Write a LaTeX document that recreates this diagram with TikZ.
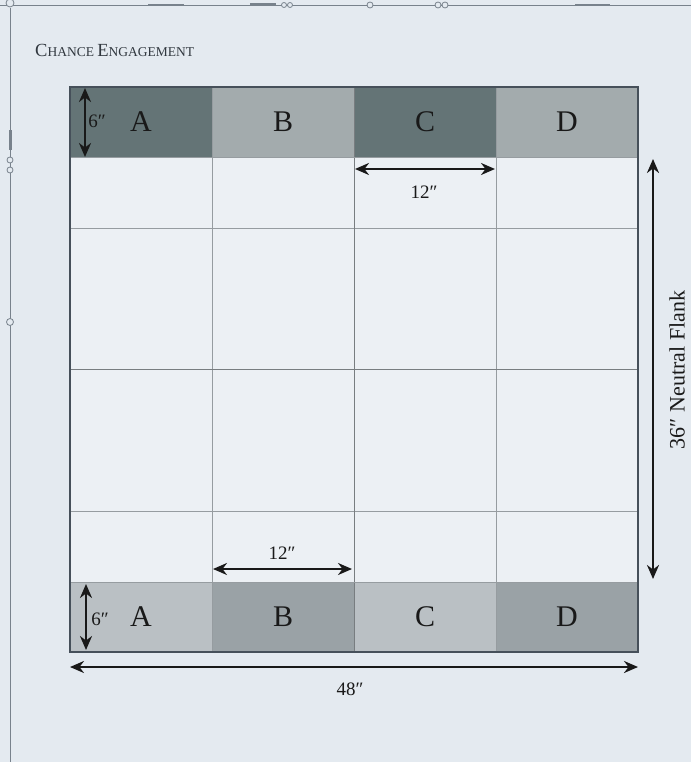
\documentclass[tikz,border=0pt]{standalone}
\usepackage{fontspec}
\setmainfont{Liberation Serif}
\usetikzlibrary{arrows.meta}
\definecolor{bg}{RGB}{228,234,240}
\definecolor{field}{RGB}{236,240,244}
\definecolor{topdark}{RGB}{100,116,118}
\definecolor{toplight}{RGB}{163,171,173}
\definecolor{botlight}{RGB}{186,192,196}
\definecolor{botmid}{RGB}{154,162,166}
\definecolor{gridc}{RGB}{150,156,160}
\definecolor{edgec}{RGB}{70,80,90}
\definecolor{ink}{RGB}{25,25,25}
\definecolor{orn}{RGB}{120,130,140}
\newcommand{\qq}{\char"2033\relax}
\tikzset{
  cell/.style={minimum width=142pt, minimum height=70pt, inner sep=0pt, outer sep=0pt, font=\fontsize{30}{30}\selectfont, text=ink},
  dimline/.style={draw=ink, line width=2.7pt, {Stealth[length=14pt,width=12pt]}-{Stealth[length=14pt,width=12pt]}},
  dimlabel/.style={inner sep=0pt, font=\fontsize{19}{19}\selectfont, text=ink},
}
\begin{document}
\begin{tikzpicture}[x=1pt,y=-1pt]
\useasboundingbox (0,0) rectangle (691,762);
\fill[bg] (0,0) rectangle (691,762);
% ornamental frame
\draw[orn, line width=0.8pt] (0,5) -- (691,5);
\draw[orn, line width=1pt] (10,8) -- (10,762);
\fill[orn] (250,3.5) rectangle (276,6.5);
\draw[orn, line width=0.8pt, fill=bg] (284,5) circle (2.5) (290,5) circle (2.5);
\draw[orn, line width=0.8pt, fill=bg] (370,5) circle (3);
\draw[orn, line width=0.8pt, fill=bg] (438,5) circle (3) (445,5) circle (3);
\fill[orn] (148,4) rectangle (184,6);
\fill[orn] (575,4) rectangle (610,6);
\draw[orn, line width=0.8pt, fill=bg] (10,3) circle (4);
\fill[orn] (8.5,130) rectangle (11.5,150);
\draw[orn, line width=0.8pt, fill=bg] (10,160) circle (3) (10,170) circle (3);
\draw[orn, line width=0.8pt, fill=bg] (10,322) circle (3.5);
% title
\node[anchor=base west, inner sep=0pt, text=edgec!70!black] (title) at (35,57)
  {\fontsize{18.5}{18}\selectfont C\fontsize{13.5}{13}\selectfont HANCE
   \fontsize{18.5}{18}\selectfont E\fontsize{13.5}{13}\selectfont NGAGEMENT};
% board field
\fill[field] (70,157) rectangle (638,582);
% top row
\node[cell, fill=topdark]  (tA) at (141,122) {A};
\node[cell, fill=toplight] (tB) at (283,122) {B};
\node[cell, fill=topdark]  (tC) at (425,122) {C};
\node[cell, fill=toplight] (tD) at (567,122) {D};
% bottom row
\node[cell, fill=botlight] (bA) at (141,617) {A};
\node[cell, fill=botmid]   (bB) at (283,617) {B};
\node[cell, fill=botlight] (bC) at (425,617) {C};
\node[cell, fill=botmid]   (bD) at (567,617) {D};
% grid
\draw[gridc, line width=0.9pt] (212,87) -- (212,652) (496,87) -- (496,652);
\draw[gridc, line width=0.9pt] (70,228) -- (638,228) (70,511) -- (638,511);
\draw[gridc!80!black, line width=1pt] (354,87) -- (354,652) (70,369) -- (638,369);
\draw[gridc, line width=0.8pt] (70,157) -- (638,157) (70,582) -- (638,582);
\draw[edgec, line width=1.6pt] (70,87) rectangle (638,652);
% dimension arrows
\coordinate (a6t1) at (85,88);  \coordinate (a6t2) at (85,157);
\draw[dimline] (a6t1) -- (a6t2);
\node[dimlabel] (l6t) at (97,121) {6\qq};
\coordinate (a12t1) at (355,169); \coordinate (a12t2) at (495,169);
\draw[dimline] (a12t1) -- (a12t2);
\node[dimlabel] (l12t) at (424,192) {12\qq};
\coordinate (a12b1) at (213,569); \coordinate (a12b2) at (352,569);
\draw[dimline] (a12b1) -- (a12b2);
\node[dimlabel] (l12b) at (282,553) {12\qq};
\coordinate (a6b1) at (86,584); \coordinate (a6b2) at (86,650);
\draw[dimline] (a6b1) -- (a6b2);
\node[dimlabel] (l6b) at (100,619) {6\qq};
\coordinate (a48a) at (70,667); \coordinate (a48b) at (638,667);
\draw[dimline] (a48a) -- (a48b);
\node[dimlabel] (l48) at (350,689) {48\qq};
\coordinate (a36a) at (653,159); \coordinate (a36b) at (653,579);
\draw[dimline] (a36a) -- (a36b);
\node[dimlabel, rotate=90, font=\fontsize{22}{22}\selectfont] (l36) at (677,370) {36\qq\ Neutral Flank};
\end{tikzpicture}
\end{document}
